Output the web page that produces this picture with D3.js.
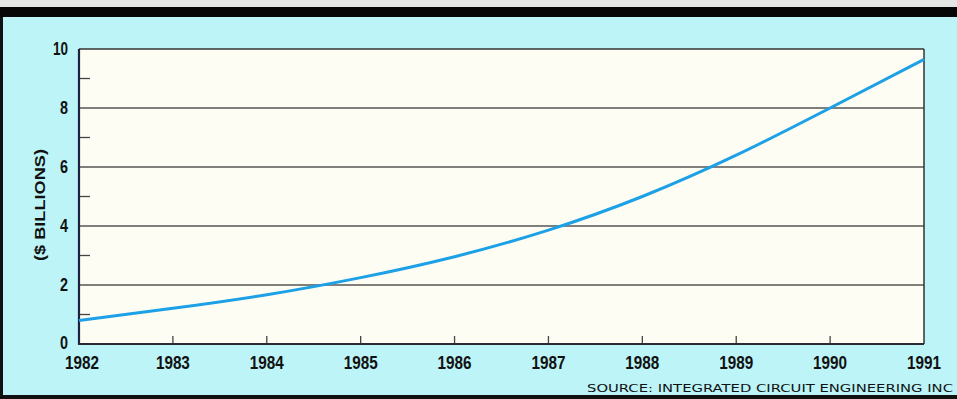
<!DOCTYPE html>
<html><head><meta charset="utf-8">
<script src="https://cdn.jsdelivr.net/npm/d3@7/dist/d3.min.js"></script>
<style>html,body{margin:0;padding:0;background:#bcf4f8;overflow:hidden}</style>
</head><body><svg id="c" width="957" height="399"></svg>
<script>
const years = [1982,1983,1984,1985,1986,1987,1988,1989,1990,1991];
const values = [0.8,1.21,1.67,2.25,2.96,3.86,5.0,6.4,8.0,9.65];
const yMajor = [0,2,4,6,8,10];
const yMinor = [1,3,5,7,9];
const yTitle = "($ BILLIONS)";
const source = "SOURCE: INTEGRATED CIRCUIT ENGINEERING INC";

const svg = d3.select("#c");
const W = 957, H = 399;
const m = {l:79, r:924, t:49, b:344};
const x = d3.scaleLinear().domain([1982,1991]).range([m.l, m.r]);
const y = d3.scaleLinear().domain([0,10]).range([m.b, m.t]);
const num = "'Liberation Sans',Arial,sans-serif";

// frame
svg.append("rect").attr("width",W).attr("height",H).attr("fill","#bcf4f8");
svg.append("rect").attr("x",0).attr("y",0).attr("width",W).attr("height",7).attr("fill","#e4e6e6");
svg.append("rect").attr("x",0).attr("y",7).attr("width",W).attr("height",10).attr("fill","#060606");
svg.append("rect").attr("x",0).attr("y",17).attr("width",3).attr("height",H-17).attr("fill","#111");
svg.append("rect").attr("x",0).attr("y",395).attr("width",W).attr("height",4).attr("fill","#111");

// plot bg
svg.append("rect").attr("x",m.l).attr("y",m.t).attr("width",m.r-m.l).attr("height",m.b-m.t).attr("fill","#fdfdf4");

// grid lines
svg.append("g").selectAll("line").data(yMajor.filter(d=>d>0)).join("line")
  .attr("x1",m.l).attr("x2",m.r).attr("y1",d=>y(d)).attr("y2",d=>y(d))
  .attr("stroke",d=>d===10?"#333":"#555").attr("stroke-width",1.5);
// right border
svg.append("line").attr("x1",m.r).attr("x2",m.r).attr("y1",m.t).attr("y2",m.b).attr("stroke","#333").attr("stroke-width",1.5);

// minor y ticks
svg.append("g").selectAll("line").data(yMinor).join("line")
  .attr("x1",m.l).attr("x2",m.l+11).attr("y1",d=>y(d)).attr("y2",d=>y(d))
  .attr("stroke","#444").attr("stroke-width",1.3);
// x ticks
svg.append("g").selectAll("line").data(years.slice(1,-1)).join("line")
  .attr("x1",d=>x(d)).attr("x2",d=>x(d)).attr("y1",m.b).attr("y2",m.b-8)
  .attr("stroke","#444").attr("stroke-width",1.3);

// axes lines
svg.append("line").attr("x1",m.l).attr("x2",m.l).attr("y1",m.t).attr("y2",m.b+1).attr("stroke","#1b2340").attr("stroke-width",2.2);
svg.append("line").attr("x1",m.l-1).attr("x2",m.r).attr("y1",m.b).attr("y2",m.b).attr("stroke","#2a2a35").attr("stroke-width",2);

// curve
const line = d3.line().x((d,i)=>x(years[i])).y(d=>y(d)).curve(d3.curveNatural);
svg.append("path").datum(values).attr("d",line).attr("fill","none")
  .attr("stroke","#1ca0e6").attr("stroke-width",3);

// y labels
svg.append("g").selectAll("text").data(yMajor).join("text")
  .attr("x",68).attr("y",d=>y(d)+(d===0?5:6)).attr("text-anchor","end")
  .attr("font-family",num).attr("font-weight","bold").attr("font-size",18).attr("fill","#111")
  .attr("textLength",d=>d>=10?15:8).attr("lengthAdjust","spacingAndGlyphs")
  .text(d=>d);
// x labels
svg.append("g").selectAll("text").data(years).join("text")
  .attr("x",d=>x(d)+(d===1982?3:0)).attr("y",369).attr("text-anchor","middle")
  .attr("font-family",num).attr("font-weight","bold").attr("font-size",18).attr("fill","#111")
  .attr("textLength",34).attr("lengthAdjust","spacingAndGlyphs")
  .text(d=>d);

// y title
svg.append("text").attr("transform","translate(45,205) rotate(-90)").attr("text-anchor","middle")
  .attr("font-family","'Liberation Sans',Arial,sans-serif").attr("font-weight","bold").attr("font-size",15)
  .attr("fill","#111").attr("textLength",112).attr("lengthAdjust","spacingAndGlyphs").text(yTitle);

// source
svg.append("text").attr("x",587).attr("y",392)
  .attr("font-family","'DejaVu Sans',sans-serif").attr("font-size",10.5)
  .attr("fill","#111").attr("textLength",366).attr("lengthAdjust","spacingAndGlyphs").text(source);
</script></body></html>
